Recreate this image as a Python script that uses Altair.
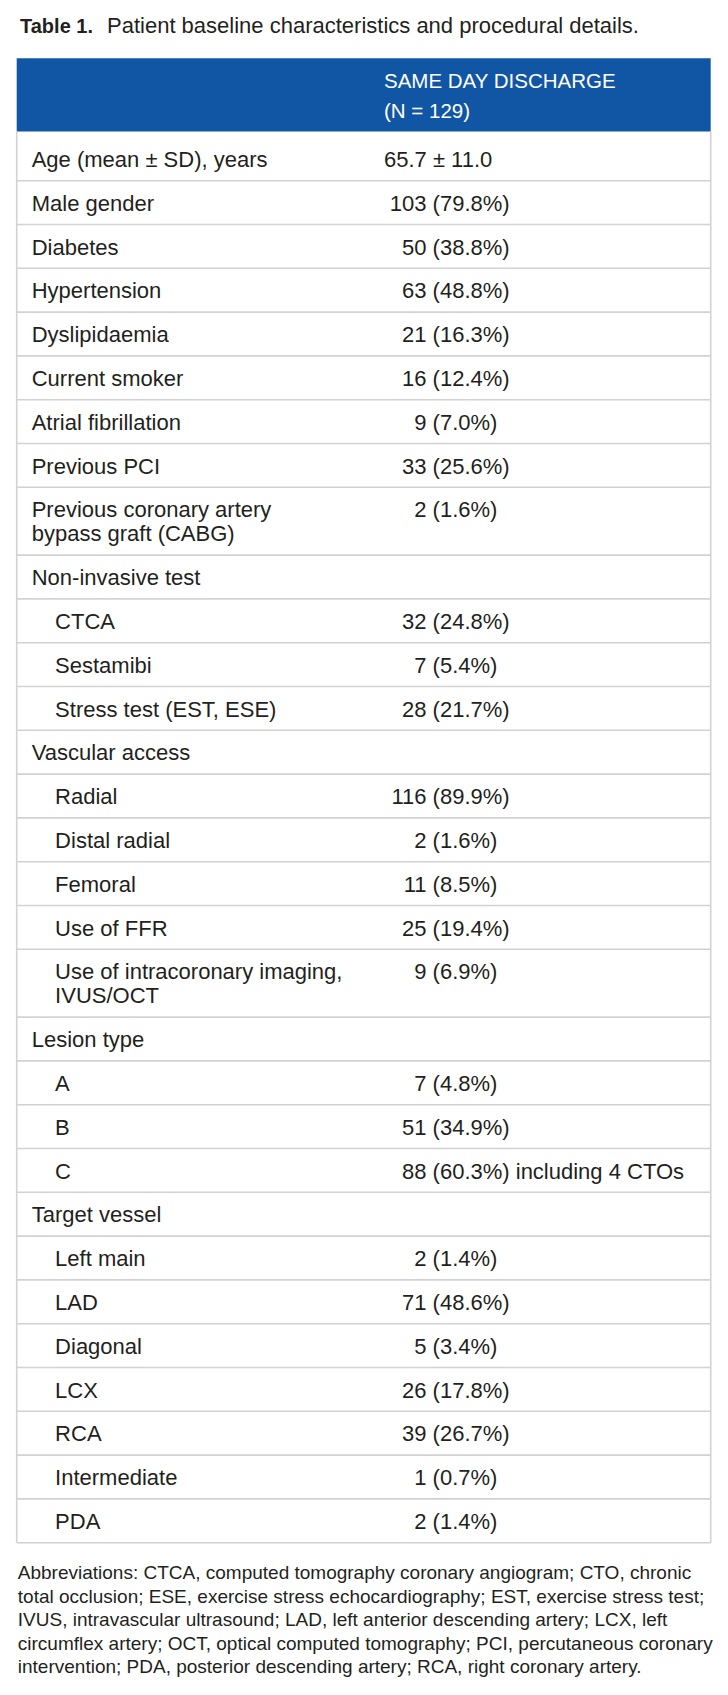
import altair as alt
import pandas as pd

# ---------------- data ----------------
title_bold = "Table 1."
title_text = "Patient baseline characteristics and procedural details."
header_lines = ["SAME DAY DISCHARGE", "(N = 129)"]

labels = [
    "Age (mean ± SD), years",
    "Male gender",
    "Diabetes",
    "Hypertension",
    "Dyslipidaemia",
    "Current smoker",
    "Atrial fibrillation",
    "Previous PCI",
    "Previous coronary artery\nbypass graft (CABG)",
    "Non-invasive test",
    "CTCA",
    "Sestamibi",
    "Stress test (EST, ESE)",
    "Vascular access",
    "Radial",
    "Distal radial",
    "Femoral",
    "Use of FFR",
    "Use of intracoronary imaging,\nIVUS/OCT",
    "Lesion type",
    "A",
    "B",
    "C",
    "Target vessel",
    "Left main",
    "LAD",
    "Diagonal",
    "LCX",
    "RCA",
    "Intermediate",
    "PDA",
]

values = [
    "65.7 ± 11.0",
    "103 (79.8%)",
    "50 (38.8%)",
    "63 (48.8%)",
    "21 (16.3%)",
    "16 (12.4%)",
    "9 (7.0%)",
    "33 (25.6%)",
    "2 (1.6%)",
    "",
    "32 (24.8%)",
    "7 (5.4%)",
    "28 (21.7%)",
    "",
    "116 (89.9%)",
    "2 (1.6%)",
    "11 (8.5%)",
    "25 (19.4%)",
    "9 (6.9%)",
    "",
    "7 (4.8%)",
    "51 (34.9%)",
    "88 (60.3%) including 4 CTOs",
    "",
    "2 (1.4%)",
    "71 (48.6%)",
    "5 (3.4%)",
    "26 (17.8%)",
    "39 (26.7%)",
    "1 (0.7%)",
    "2 (1.4%)",
]

indented = [0, 0, 0, 0, 0, 0, 0, 0, 0, 0, 1, 1, 1, 0, 1, 1, 1, 1, 1, 0, 1, 1, 1, 0, 1, 1, 1, 1, 1, 1, 1]

footnote_lines = [
    "Abbreviations: CTCA, computed tomography coronary angiogram; CTO, chronic",
    "total occlusion; ESE, exercise stress echocardiography; EST, exercise stress test;",
    "IVUS, intravascular ultrasound; LAD, left anterior descending artery; LCX, left",
    "circumflex artery; OCT, optical computed tomography; PCI, percutaneous coronary",
    "intervention; PDA, posterior descending artery; RCA, right coronary artery.",
]

# ---------------- layout (page pixel units) ----------------
W, H = 712, 1679
TABLE_L, TABLE_R = 16.7, 710.7
HEAD_T, HEAD_B = 58.3, 131.5
ROW_H, LINE_H, FIRST_PAD = 43.8, 24.0, 5.4
BASE_OFF = 30.0
LABEL_X, INDENT = 31.7, 23.4
VAL_LEFT = 384.0
PAREN_X = 432.6
GAP = 6.1
BLUE = "#1156a4"
TEXT = "#231f20"
GRID = "#d2d2d2"
FONT = "Liberation Sans"

xs = alt.Scale(domain=[8, 8 + W], range=[0, W], nice=False, zero=False)
ys = alt.Scale(domain=[8, 8 + H], range=[0, H], nice=False, zero=False)

label_rows, cnt_rows, pct_rows, left_rows, rule_rows = [], [], [], [], []
top = HEAD_B
for i, (lab, val, ind) in enumerate(zip(labels, values, indented)):
    lines = lab.split("\n")
    pad = FIRST_PAD if i == 0 else 0.0
    h = ROW_H + (len(lines) - 1) * LINE_H + pad
    base = top + pad + BASE_OFF
    for j, ln in enumerate(lines):
        label_rows.append({"x": LABEL_X + ind * INDENT, "y": base + j * LINE_H, "t": ln})
    if val:
        if " (" in val:
            n, rest = val.split(" (", 1)
            cnt_rows.append({"x": PAREN_X - GAP, "y": base, "t": n})
            pct_rows.append({"x": PAREN_X, "y": base, "t": "(" + rest})
        else:
            left_rows.append({"x": VAL_LEFT, "y": base, "t": val})
    top += h
    rule_rows.append({"x": TABLE_L, "x2": TABLE_R, "y": top})
bottom = top

foot_rows = [{"x": 17.8, "y": 1579.0 + k * 23.6, "t": t} for k, t in enumerate(footnote_lines)]
head_rows = [{"x": VAL_LEFT, "y": 88.3 + k * 30.0, "t": t} for k, t in enumerate(header_lines)]

def text_layer(rows, size, align="left", color=TEXT, weight="normal"):
    return alt.Chart(pd.DataFrame(rows)).mark_text(
        align=align, baseline="alphabetic", font=FONT, fontSize=size,
        color=color, fontWeight=weight,
    ).encode(
        x=alt.X("x:Q", scale=xs, axis=None),
        y=alt.Y("y:Q", scale=ys, axis=None),
        text="t:N",
    )

header_rect = alt.Chart(pd.DataFrame([{"x": TABLE_L, "x2": TABLE_R, "y": HEAD_T, "y2": HEAD_B}])).mark_rect(
    color=BLUE
).encode(
    x=alt.X("x:Q", scale=xs, axis=None), x2="x2:Q",
    y=alt.Y("y:Q", scale=ys, axis=None), y2="y2:Q",
)

hrules = alt.Chart(pd.DataFrame(rule_rows)).mark_rule(color=GRID, strokeWidth=1.6).encode(
    x=alt.X("x:Q", scale=xs, axis=None), x2="x2:Q",
    y=alt.Y("y:Q", scale=ys, axis=None),
)

vrules = alt.Chart(pd.DataFrame([
    {"x": TABLE_L, "y": HEAD_B, "y2": bottom},
    {"x": TABLE_R, "y": HEAD_B, "y2": bottom},
])).mark_rule(color=GRID, strokeWidth=1.6).encode(
    x=alt.X("x:Q", scale=xs, axis=None),
    y=alt.Y("y:Q", scale=ys, axis=None), y2="y2:Q",
)

title1 = text_layer([{"x": 20.0, "y": 32.7, "t": title_bold}], 20, weight="bold")
title2 = text_layer([{"x": 107.0, "y": 32.7, "t": title_text}], 22)

chart = alt.layer(
    header_rect,
    hrules,
    vrules,
    title1,
    title2,
    text_layer(head_rows, 20.5, color="white"),
    text_layer(label_rows, 22),
    text_layer(cnt_rows, 22, align="right"),
    text_layer(pct_rows, 22),
    text_layer(left_rows, 22),
    text_layer(foot_rows, 19),
).properties(
    width=W, height=H,
    autosize=alt.AutoSizeParams(type="none"),
    padding=0,
    background="white",
).configure_view(stroke=None)

chart.save("out.html", embed_options={"renderer": "svg", "actions": False})
